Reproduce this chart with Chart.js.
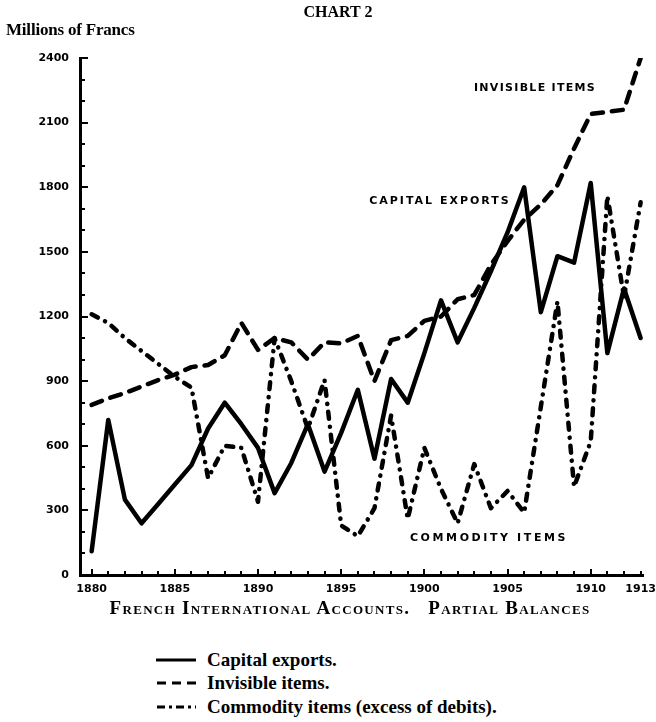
<!DOCTYPE html>
<html>
<head>
<meta charset="utf-8">
<title>Chart 2</title>
<script src="https://cdn.jsdelivr.net/npm/chart.js@4.4.0/dist/chart.umd.min.js"></script>
<style>
  html, body { margin: 0; padding: 0; background: #fff; }
  #page { position: relative; width: 656px; height: 722px; overflow: hidden; font-family: "Liberation Serif", serif; color: #000; }
  #wrap { position: absolute; left: 0; top: 0; width: 656px; height: 600px; }
  .abs { position: absolute; white-space: nowrap; }
  #title { left: 0; width: 676px; top: 3px; text-align: center; font-weight: bold; font-size: 16px; }
  #unit { left: 6px; top: 20px; font-weight: bold; font-size: 17px; letter-spacing: -0.2px; }
  .tag { font-family: "DejaVu Sans", sans-serif; font-weight: bold; font-size: 11px; transform: translate(-50%, -50%); }
  #caption { left: 0; width: 700px; top: 597px; text-align: center; font-variant: small-caps; font-weight: bold; font-size: 19px; letter-spacing: 1.3px; }
  .leg { left: 155px; font-weight: bold; font-size: 19px; line-height: 23px; display: flex; align-items: center; }
  .leg svg { margin-right: 10px; }
</style>
</head>
<body>
<div id="page">
  <div id="wrap"><canvas id="chart"></canvas></div>
  <div class="abs" id="title">CHART 2</div>
  <div class="abs" id="unit">Millions of Francs</div>
  <div class="abs tag" style="left:535px; top:87px; letter-spacing:1.3px;">INVISIBLE ITEMS</div>
  <div class="abs tag" style="left:440px; top:200px; letter-spacing:2px;">CAPITAL EXPORTS</div>
  <div class="abs tag" style="left:489px; top:537px; letter-spacing:2.6px;">COMMODITY ITEMS</div>
  <div class="abs" id="caption">French International Accounts.&nbsp;&nbsp; Partial Balances</div>
  <div class="abs leg" style="top:648px;">
    <svg width="42" height="10"><line x1="1" y1="5" x2="41" y2="5" stroke="#000" stroke-width="3"/></svg>Capital exports.
  </div>
  <div class="abs leg" style="top:671px;">
    <svg width="42" height="10"><line x1="2" y1="5" x2="41" y2="5" stroke="#000" stroke-width="3" stroke-dasharray="9,6"/></svg>Invisible items.
  </div>
  <div class="abs leg" style="top:695px;">
    <svg width="42" height="10"><line x1="2" y1="5" x2="41" y2="5" stroke="#000" stroke-width="3" stroke-dasharray="8,4,3,4"/></svg>Commodity items (excess of debits).
  </div>
</div>
<script>
// values, millions of francs
const years = [1880, 1881, 1882, 1883, 1884, 1885, 1886, 1887, 1888, 1889,
               1890, 1891, 1892, 1893, 1894, 1895, 1896, 1897, 1898, 1899,
               1900, 1901, 1902, 1903, 1904, 1905, 1906, 1907, 1908, 1909,
               1910, 1911, 1912, 1913];

const capitalExports = [110, 720, 350, 240, 330, 420, 510, 680, 800, 700,
                        590, 380, 520, 700, 480, 660, 860, 540, 910, 800,
                        1030, 1275, 1080, 1240, 1410, 1590, 1800, 1220, 1480, 1450,
                        1820, 1030, 1330, 1100];

const invisibleItems = [790, 820, 845, 875, 905, 930, 965, 975, 1020, 1170,
                        1045, 1100, 1080, 1000, 1080, 1075, 1110, 900, 1090, 1110,
                        1180, 1200, 1280, 1300, 1440, 1550, 1650, 1720, 1810, 1980,
                        2140, 2150, 2160, 2400];

const commodityItems = [1210, 1170, 1100, 1040, 980, 920, 870, 450, 600, 590,
                        340, 1100, 900, 680, 905, 230, 180, 310, 740, 260,
                        590, 400, 240, 515, 310, 390, 290, 780, 1270, 410,
                        620, 1760, 1290, 1730];

const xTickYears = [1880, 1885, 1890, 1895, 1900, 1905, 1910, 1913];

const tickFont = { family: 'DejaVu Sans', weight: 'bold', size: 11 };

function series(vals) {
  return years.map((yr, i) => ({ x: yr, y: vals[i] }));
}

// little inward ticks on both axes, every year and every 100
const axisTicks = {
  id: 'axisTicks',
  afterDraw(chart) {
    const { ctx, chartArea, scales } = chart;
    ctx.save();
    ctx.strokeStyle = '#000';
    ctx.lineWidth = 2;
    for (let v = 100; v <= 2400; v += 100) {
      const y = Math.round(scales.y.getPixelForValue(v));
      const len = v % 300 === 0 ? 8 : 5;
      ctx.beginPath();
      ctx.moveTo(chartArea.left, y);
      ctx.lineTo(chartArea.left + len, y);
      ctx.stroke();
    }
    for (let yr = 1880; yr <= 1913; yr++) {
      const x = Math.round(scales.x.getPixelForValue(yr));
      const len = yr % 5 === 0 ? 6 : 4;
      ctx.beginPath();
      ctx.moveTo(x, chartArea.bottom);
      ctx.lineTo(x, chartArea.bottom - len);
      ctx.stroke();
    }
    ctx.restore();
  }
};

const lineBase = {
  borderColor: '#000',
  borderWidth: 4.5,
  borderCapStyle: 'round',
  borderJoinStyle: 'round',
  pointRadius: 0,
  tension: 0,
  fill: false
};

new Chart(document.getElementById('chart'), {
  type: 'line',
  data: {
    datasets: [
      Object.assign({ label: 'Capital exports', data: series(capitalExports) }, lineBase),
      Object.assign({ label: 'Invisible items', data: series(invisibleItems), borderDash: [11, 9] }, lineBase),
      Object.assign({ label: 'Commodity items', data: series(commodityItems), borderDash: [7, 8, 0.1, 8] }, lineBase)
    ]
  },
  options: {
    responsive: true,
    maintainAspectRatio: false,
    animation: false,
    layout: { padding: { top: 58, right: 11, bottom: 0, left: 0 } },
    plugins: { legend: { display: false }, tooltip: { enabled: false } },
    scales: {
      x: {
        type: 'linear',
        min: 1879.3,
        max: 1913.2,
        afterBuildTicks: s => { s.ticks = xTickYears.map(v => ({ value: v })); },
        afterFit: s => { s.height = 25; },
        ticks: { callback: v => String(v), color: '#000', font: tickFont, padding: 0, maxRotation: 0, autoSkip: false },
        grid: { display: false },
        border: { display: true, color: '#000', width: 3 }
      },
      y: {
        min: 0,
        max: 2400,
        afterFit: s => { s.width = 80; },
        ticks: { stepSize: 300, callback: v => String(v), color: '#000', font: tickFont, padding: 3 },
        grid: { display: false },
        border: { display: true, color: '#000', width: 3 }
      }
    }
  },
  plugins: [axisTicks]
});
</script>
</body>
</html>
